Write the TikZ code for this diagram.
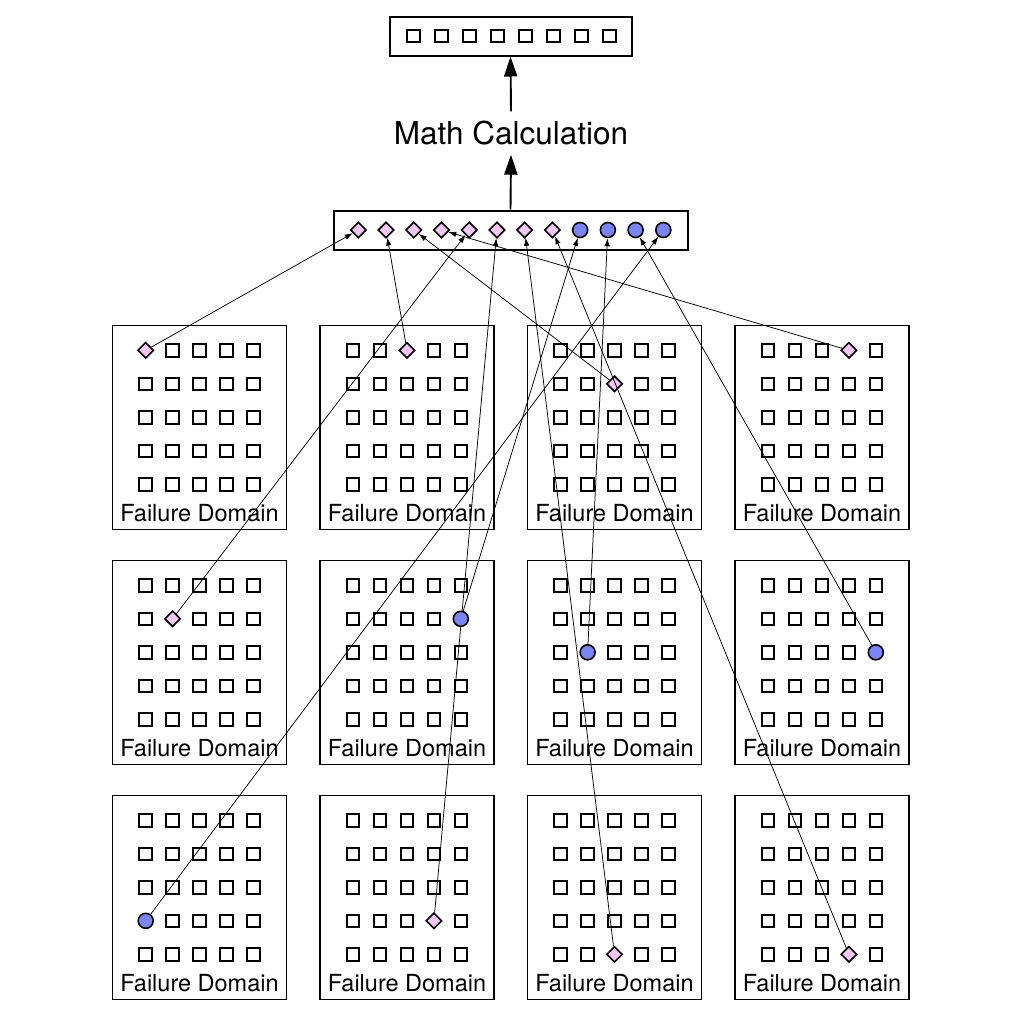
\documentclass[tikz,border=0pt]{standalone}
\usepackage{fontspec}
\setmainfont{TeX Gyre Heros}
\usetikzlibrary{arrows.meta,shapes.geometric}
\definecolor{pinkfill}{RGB}{245,198,245}
\definecolor{bluefill}{RGB}{122,132,242}
\tikzset{
  cellsq/.style={draw, line width=2pt, minimum size=12.5pt, inner sep=0pt},
  dia/.style={diamond, draw, line width=1.6pt, fill=pinkfill, minimum size=16pt, inner sep=0pt},
  dot/.style={circle, draw, line width=1.6pt, fill=bluefill, minimum size=15pt, inner sep=0pt},
  domainbox/.style={draw, line width=1.9pt, minimum width=174pt, minimum height=204pt, inner sep=0pt},
  barbox/.style={draw, line width=2pt, minimum height=39pt, inner sep=0pt},
  fdtext/.style={font=\fontsize{23.5}{26}\selectfont, anchor=base, inner sep=0pt},
  mathtext/.style={font=\fontsize{31.5}{34}\selectfont, inner sep=0pt, minimum height=43pt},
  bigarrow/.style={line width=1.9pt, -{Triangle[length=20pt,width=13pt]}},
  smallarrow/.style={line width=0.75pt, -{Latex[length=8pt,width=5.5pt]}},
}
\begin{document}
\begin{tikzpicture}[x=1pt,y=-1pt]
\useasboundingbox (0,0) rectangle (1024,1023);

% top result bar
\node[barbox, minimum width=242pt] (top) at (510.5,36) {};
\foreach \i in {0,...,7}
  \node[cellsq] (t\i) at ({511.3+(\i-3.5)*28},36) {};

% math text
\node[mathtext] (math) at (511,133) {Math Calculation};

% middle bar
\node[barbox, minimum width=354pt] (mid) at (510.5,230) {};
\foreach \i in {0,...,7}
  \node[dia] (m\i) at ({358.3+27.73*\i},230) {};
\foreach \i in {8,...,11}
  \node[dot] (m\i) at ({358.3+27.73*\i},230) {};

\draw[bigarrow] (mid.north) -- (math.south);
\draw[bigarrow] (math.north) -- (top.south);

% special cells: row/col of domain, row/col of cell, style, target
\def\speclist{0/0/0/0/dia/0, 0/1/0/2/dia/1, 0/2/1/2/dia/2, 0/3/0/3/dia/3,
  1/0/1/1/dia/4, 2/1/3/3/dia/5, 2/2/4/2/dia/6, 2/3/4/3/dia/7,
  1/1/1/4/dot/8, 1/2/2/1/dot/9, 1/3/2/4/dot/10, 2/0/3/0/dot/11}
\foreach \r/\c/\k/\j/\t/\m in \speclist {
  \expandafter\xdef\csname sp-\r-\c-\k-\j\endcsname{}
}

% failure domains
\foreach \r in {0,1,2} {
  \foreach \c in {0,...,3} {
    \node[domainbox] (fd-\r-\c) at ({199.5+207.5*\c},{427.5+235*\r}) {};
    \node[fdtext] (fl-\r-\c) at ({199.5+207.5*\c},{325+235*\r+196}) {Failure Domain};
    \foreach \k in {0,...,4} {
      \foreach \j in {0,...,4} {
        \ifcsname sp-\r-\c-\k-\j\endcsname\else
          \node[cellsq] (q-\r-\c-\k-\j) at ({199.5+207.5*\c+(\j-2)*26.9},{325+235*\r+25.3+33.5*\k}) {};
        \fi
      }
    }
  }
}

% special cells and their connectors
\foreach \r/\c/\k/\j/\t/\m in \speclist {
  \node[\t] (s\m) at ({199.5+207.5*\c+(\j-2)*26.9},{325+235*\r+25.3+33.5*\k}) {};
  \draw[smallarrow] (s\m) -- (m\m);
}
\end{tikzpicture}
\end{document}
